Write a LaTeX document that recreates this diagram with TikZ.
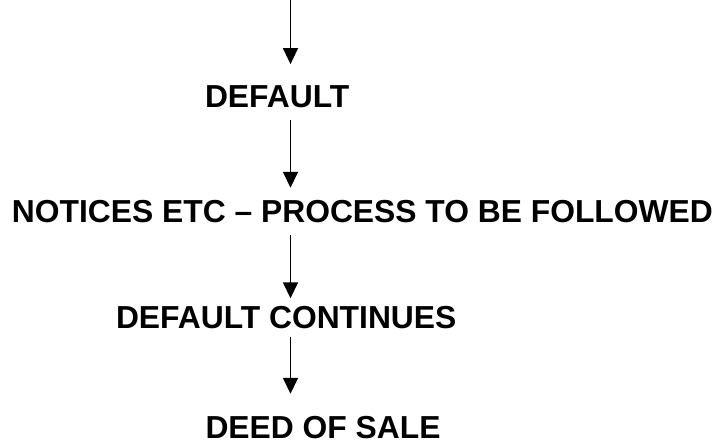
\documentclass[tikz,border=0pt]{standalone}
\usepackage{fontspec}
\setmainfont{Liberation Sans}
\usetikzlibrary{arrows.meta}
\begin{document}
\begin{tikzpicture}[x=1pt,y=-1pt,
  lbl/.style={anchor=base west,inner sep=0pt,outer sep=0pt,font=\fontsize{31.8}{38}\selectfont\bfseries},
  arr/.style={line width=1.6pt,-{Triangle[width=15pt,length=16pt]}}]
\useasboundingbox (0,0) rectangle (718,443);
\coordinate (top) at (290.5,0);
\node[lbl] (d1) at (205,108) {DEFAULT};
\node[lbl] (n) at (12,223) {NOTICES ETC – PROCESS TO BE FOLLOWED};
\node[lbl] (dc) at (116,329) {DEFAULT CONTINUES};
\node[lbl] (ds) at (205.5,439) {DEED OF SALE};
\draw[arr,shorten >=22pt] (top) -- (d1.north -| top);
\draw[arr,shorten <=12pt,shorten >=13pt] (d1.south -| top) -- (n.north -| top);
\draw[arr,shorten <=12pt,shorten >=8.5pt] (n.south -| top) -- (dc.north -| top);
\draw[arr,shorten <=8pt,shorten >=23pt] (dc.south -| top) -- (ds.north -| top);
\end{tikzpicture}
\end{document}
